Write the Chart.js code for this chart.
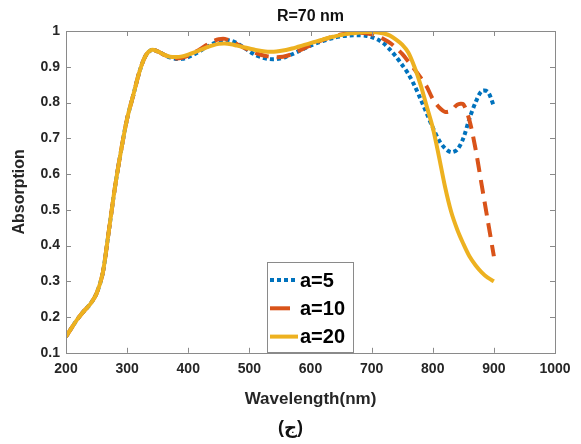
<!DOCTYPE html>
<html><head><meta charset="utf-8">
<script src="https://cdn.jsdelivr.net/npm/chart.js@4"></script>
<style>html,body{margin:0;padding:0;background:#fff}#wrap{width:581px;height:444px}</style>
</head><body><div id="wrap"><canvas id="c" width="581" height="444"></canvas></div>
<script>
const wavelengths = [200,210,220,230,240,250,260,270,280,290,300,310,320,330,340,350,360,370,380,390,400,410,420,430,440,450,460,470,480,490,500,510,520,530,540,550,560,570,580,590,600,610,620,630,640,650,660,670,680,690,700,710,720,730,740,750,760,770,780,790,800,810,820,830,840,850,860,870,880,890,900];
const absA5 = [0.145,0.172,0.197,0.218,0.237,0.266,0.322,0.44,0.562,0.665,0.755,0.82,0.885,0.93,0.947,0.943,0.934,0.926,0.922,0.922,0.927,0.935,0.945,0.955,0.964,0.971,0.975,0.973,0.966,0.955,0.943,0.933,0.926,0.922,0.921,0.923,0.928,0.935,0.943,0.951,0.959,0.966,0.972,0.977,0.982,0.985,0.987,0.988,0.988,0.987,0.983,0.976,0.965,0.948,0.928,0.905,0.88,0.848,0.81,0.77,0.73,0.695,0.672,0.661,0.668,0.70,0.755,0.80,0.832,0.83,0.79];
const absA10 = [0.145,0.172,0.197,0.218,0.237,0.266,0.322,0.44,0.562,0.665,0.755,0.82,0.885,0.93,0.947,0.943,0.934,0.927,0.923,0.925,0.931,0.94,0.95,0.961,0.971,0.977,0.978,0.972,0.963,0.954,0.946,0.939,0.933,0.929,0.927,0.927,0.93,0.936,0.944,0.952,0.96,0.968,0.975,0.981,0.986,0.99,0.993,0.995,0.995,0.994,0.991,0.985,0.977,0.967,0.953,0.936,0.915,0.893,0.87,0.845,0.81,0.787,0.774,0.777,0.794,0.795,0.75,0.67,0.57,0.47,0.37];
const absA20 = [0.145,0.172,0.197,0.218,0.237,0.266,0.322,0.44,0.562,0.665,0.755,0.82,0.885,0.93,0.947,0.943,0.934,0.928,0.927,0.929,0.934,0.94,0.947,0.954,0.96,0.964,0.965,0.963,0.959,0.955,0.951,0.947,0.944,0.942,0.942,0.944,0.947,0.951,0.956,0.961,0.966,0.971,0.976,0.981,0.985,0.989,0.992,0.994,0.996,0.997,0.997,0.996,0.993,0.987,0.976,0.962,0.94,0.90,0.85,0.79,0.73,0.65,0.565,0.495,0.445,0.405,0.37,0.345,0.325,0.31,0.30];
const seriesLabels = ['a=5','a=10','a=20'];
const xTickValues = [200,300,400,500,600,700,800,900,1000];
const xTickLabels = ['200','300','400','500','600','700','800','900','1000'];
const yTickValues = [0.1,0.2,0.3,0.4,0.5,0.6,0.7,0.8,0.9,1];
const yTickLabels = ['0.1','0.2','0.3','0.4','0.5','0.6','0.7','0.8','0.9','1'];
const chartTitle = 'R=70 nm';
const xTitle = 'Wavelength(nm)';
const yTitle = 'Absorption';
const subTitle = '(ج)';

const FONT = '"Liberation Sans", Arial, "DejaVu Sans", sans-serif';
const colors = ['#0072BD','#D95319','#EDB120'];
const dashes = [[4,3],[14,8],[]];
const series = [absA5, absA10, absA20];

const pts = arr => arr.map((v,i)=>({x: wavelengths[i], y: v}));

const decor = {
  id: 'decor',
  afterDraw(chart){
    const {ctx, chartArea:a, scales:{x, y}} = chart;
    ctx.save();
    ctx.strokeStyle = '#8a8a8a';
    ctx.lineWidth = 1;
    ctx.setLineDash([]);
    ctx.strokeRect(Math.round(a.left)+0.5, Math.round(a.top)+0.5, Math.round(a.right-a.left), Math.round(a.bottom-a.top));
    const tl = 5;
    ctx.beginPath();
    x.ticks.forEach(t=>{
      const px = Math.round(x.getPixelForValue(t.value))+0.5;
      ctx.moveTo(px, a.bottom); ctx.lineTo(px, a.bottom-tl);
      ctx.moveTo(px, a.top); ctx.lineTo(px, a.top+tl);
    });
    y.ticks.forEach(t=>{
      const py = Math.round(y.getPixelForValue(t.value))+0.5;
      ctx.moveTo(a.left, py); ctx.lineTo(a.left+tl, py);
      ctx.moveTo(a.right, py); ctx.lineTo(a.right-tl, py);
    });
    ctx.stroke();
    ctx.fillStyle = '#111';
    ctx.font = 'bold 16px ' + FONT;
    ctx.textAlign = 'center';
    ctx.textBaseline = 'middle';
    ctx.fillText(chartTitle, (a.left+a.right)/2, 17);
    ctx.font = 'bold 18px ' + FONT;
    ctx.fillText(subTitle, chart.width/2, 428);
    const lx = a.left + 201, ly = a.top + 231, lw = 86, lh = 90;
    ctx.fillStyle = '#fff';
    ctx.fillRect(lx, ly, lw, lh);
    ctx.strokeStyle = '#8a8a8a';
    ctx.strokeRect(lx+0.5, ly+0.5, lw, lh);
    const legDash = [[4,3],[20,10],[]];
    const legEnd = [29, 25, 31];
    seriesLabels.forEach((lab, i)=>{
      const cy = ly + 18 + i*28.3;
      ctx.strokeStyle = colors[i];
      ctx.lineWidth = 4;
      ctx.setLineDash(legDash[i]);
      ctx.beginPath();
      ctx.moveTo(lx+3, cy); ctx.lineTo(lx+legEnd[i], cy);
      ctx.stroke();
      ctx.setLineDash([]);
      ctx.fillStyle = '#000';
      ctx.font = 'bold 20px ' + FONT;
      ctx.textAlign = 'left';
      ctx.fillText(lab, lx+33, cy+1);
    });
    ctx.restore();
  }
};

new Chart(document.getElementById('c'), {
  type: 'line',
  data: {
    datasets: series.map((s,i)=>({
      label: seriesLabels[i],
      data: pts(s),
      borderColor: colors[i],
      backgroundColor: colors[i],
      borderWidth: 4,
      borderDash: dashes[i],
      borderCapStyle: 'butt',
      pointRadius: 0,
      tension: 0.3,
      fill: false,
      order: 2 - i
    }))
  },
  options: {
    responsive: false,
    animation: false,
    devicePixelRatio: 1,
    layout: { padding: { top: 31, right: 26, bottom: 34, left: 0 } },
    plugins: { legend: { display: false }, title: { display: false }, tooltip: { enabled: false } },
    scales: {
      x: {
        type: 'linear', min: 200, max: 1000,
        grid: { display: false, drawTicks: false },
        border: { display: false },
        afterBuildTicks: s => { s.ticks = xTickValues.map(v=>({value: v})); },
        ticks: { padding: 8, color: '#262626', font: { family: FONT, size: 14, weight: 'bold' },
                 maxRotation: 0, callback: (v, i) => xTickLabels[i] },
        title: { display: true, text: xTitle, color: '#262626', padding: { top: 4, bottom: 0 },
                 font: { family: FONT, size: 17, weight: 'bold' } }
      },
      y: {
        type: 'linear', min: 0.1, max: 1,
        grid: { display: false, drawTicks: false },
        border: { display: false },
        afterBuildTicks: s => { s.ticks = yTickValues.map(v=>({value: v})); },
        afterFit: s => { s.width = 66; },
        ticks: { padding: 6, color: '#262626', font: { family: FONT, size: 14, weight: 'bold' },
                 callback: (v, i) => yTickLabels[i] },
        title: { display: true, text: yTitle, color: '#262626', padding: { top: 10, bottom: 0 },
                 font: { family: FONT, size: 16, weight: 'bold' } }
      }
    }
  },
  plugins: [decor]
});
</script>
</body></html>
